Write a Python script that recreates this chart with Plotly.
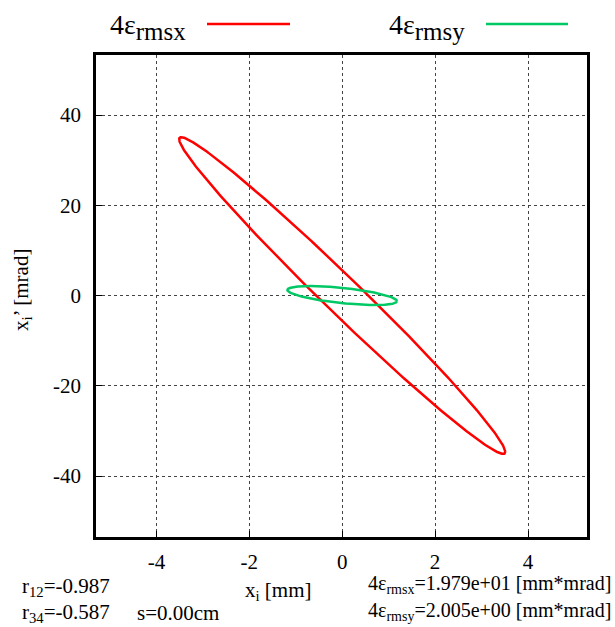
import numpy as np
import plotly.graph_objects as go

# Beam ellipse parameters
planes = ["rmsx", "rmsy"]
emittances = [19.79, 2.005]          # 4*eps_rms [mm*mrad]
correlations = [-0.987, -0.587]      # r12, r34
half_widths = [3.51, 1.18]           # max x extent [mm]
colors = ["#ff0000", "#00c864"]
x_ticks = [-4, -2, 0, 2, 4]
y_ticks = [-40, -20, 0, 20, 40]

fig = go.Figure()
t = np.linspace(0, 2 * np.pi, 400)
for name, eps, r, xm, c in zip(planes, emittances, correlations, half_widths, colors):
    beta = xm ** 2 / eps
    alpha = -r / np.sqrt(1 - r ** 2)
    x = np.sqrt(eps * beta) * np.cos(t)
    xp = -np.sqrt(eps / beta) * (alpha * np.cos(t) + np.sin(t))
    fig.add_trace(go.Scatter(x=x, y=xp, mode="lines", line=dict(color=c, width=2.5),
                             name=name, showlegend=False))

font = "Liberation Serif"
axis_common = dict(showline=True, mirror=True, linecolor="black", linewidth=2.5,
                   ticks="inside", ticklen=6, tickcolor="black", automargin=False,
                   showgrid=True, gridcolor="#444", griddash="dot", gridwidth=1,
                   zeroline=False, tickfont=dict(family=font, size=21, color="black"))
fig.update_xaxes(range=[-5.3, 5.27], tickvals=x_ticks, ticktext=[str(v) for v in x_ticks],
                 ticklabelstandoff=4, **axis_common)
fig.update_yaxes(range=[-53.5, 53.3], tickvals=y_ticks, ticktext=[str(v) for v in y_ticks],
                 ticklabelstandoff=8, **axis_common)

W, H = 615, 627
L, R, T, B = 96, 28, 55, 90
def px(xp):
    return (xp - L) / (W - L - R)
def py(yp):
    return (H - B - yp) / (H - T - B)

big = '<sub><span style="font-size:25px">%s</span></sub>'
anns = [
    dict(x=108, y=27, text="4ε" + big % "rmsx", size=28, xanchor="left"),
    dict(x=387, y=27, text="4ε" + big % "rmsy", size=28, xanchor="left"),
    dict(x=20, y=587, text="r<sub>12</sub>=-0.987", size=21, xanchor="left"),
    dict(x=20, y=613, text="r<sub>34</sub>=-0.587", size=21, xanchor="left"),
    dict(x=135, y=613, text="s=0.00cm", size=21, xanchor="left"),
    dict(x=243, y=591, text="x<sub>i</sub> [mm]", size=21, xanchor="left"),
    dict(x=613, y=584, text="4ε<sub>rmsx</sub>=1.979e+01 [mm*mrad]", size=20, xanchor="right"),
    dict(x=613, y=611, text="4ε<sub>rmsy</sub>=2.005e+00 [mm*mrad]", size=20, xanchor="right"),
]
for a in anns:
    fig.add_annotation(x=px(a["x"]), y=py(a["y"]), xref="paper", yref="paper", text=a["text"],
                       showarrow=False, xanchor=a["xanchor"], yanchor="middle",
                       font=dict(family=font, size=a["size"], color="black"))
fig.add_annotation(x=px(22), y=py(290), xref="paper", yref="paper",
                   text="x<sub>i</sub>’ [mrad]", textangle=-90, showarrow=False,
                   xanchor="center", yanchor="middle",
                   font=dict(family=font, size=21, color="black"))

# legend line samples
for (x0, x1), c in zip([(207, 290), (486, 568)], colors):
    fig.add_shape(type="line", xref="paper", yref="paper", x0=px(x0), x1=px(x1),
                  y0=py(24), y1=py(24), line=dict(color=c, width=2.5))

fig.update_layout(width=W, height=H, margin=dict(l=L, r=R, t=T, b=B, autoexpand=False),
                  plot_bgcolor="white", paper_bgcolor="white", showlegend=False)
fig.write_html("out.html", config={"displayModeBar": False},
               post_script="document.body.style.margin='0px';document.body.style.overflow='hidden';")
